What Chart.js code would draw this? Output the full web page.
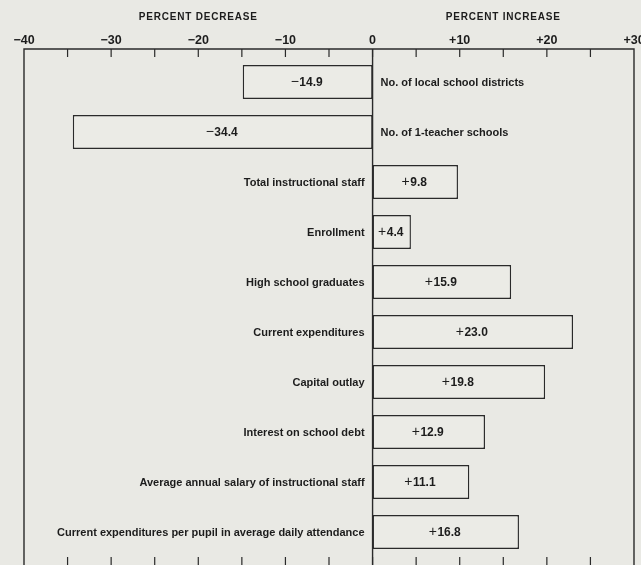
<!DOCTYPE html>
<html>
<head>
<meta charset="utf-8">
<script src="https://cdn.jsdelivr.net/npm/chart.js@4.4.1/dist/chart.umd.min.js"></script>
<style>
  html, body { margin: 0; padding: 0; background: #e9e9e4; }
  #wrap { width: 641px; height: 565px; position: relative; }
</style>
</head>
<body>
<div id="wrap"><canvas id="c"></canvas></div>
<script>
const categories = [
  "No. of local school districts",
  "No. of 1-teacher schools",
  "Total instructional staff",
  "Enrollment",
  "High school graduates",
  "Current expenditures",
  "Capital outlay",
  "Interest on school debt",
  "Average annual salary of instructional staff",
  "Current expenditures per pupil in average daily attendance"
];
const percentChange = [-14.9, -34.4, 9.8, 4.4, 15.9, 23.0, 19.8, 12.9, 11.1, 16.8];
const axisMin = -40;
const axisMax = 30;
const majorStep = 10;
const minorStep = 5;
const headerLeft = "PERCENT DECREASE";
const headerRight = "PERCENT INCREASE";

const FONT = "'Liberation Sans', Arial, sans-serif";
const INK = "#1c1c1c";
const LINE = "#2a2a2a";
const BG = "#e9e9e4";

function fmtSigned(v) {
  if (v > 0) return "+" + v;
  if (v < 0) return "\u2212" + Math.abs(v);
  return "0";
}

const decor = {
  id: "decor",
  beforeDraw(chart) {
    const ctx = chart.ctx;
    ctx.save();
    ctx.fillStyle = BG;
    ctx.fillRect(0, 0, chart.width, chart.height);
    ctx.restore();
  },
  afterDatasetsDraw(chart) {
    const ctx = chart.ctx;
    const xs = chart.scales.x;
    const area = chart.chartArea;
    const frameTop = area.top - 8;
    const frameBottom = chart.height;
    ctx.save();
    ctx.strokeStyle = LINE;
    ctx.lineWidth = 1.4;
    const xl = xs.getPixelForValue(axisMin);
    const xr = xs.getPixelForValue(axisMax);
    const x0 = xs.getPixelForValue(0);
    ctx.beginPath();
    ctx.moveTo(xl, frameBottom);
    ctx.lineTo(xl, frameTop);
    ctx.lineTo(xr, frameTop);
    ctx.lineTo(xr, frameBottom);
    ctx.moveTo(x0, frameTop);
    ctx.lineTo(x0, frameBottom);
    ctx.stroke();
    ctx.lineWidth = 1.2;
    ctx.beginPath();
    for (let v = axisMin + minorStep; v < axisMax; v += minorStep) {
      const px = xs.getPixelForValue(v);
      ctx.moveTo(px, frameTop);
      ctx.lineTo(px, area.top);
      ctx.moveTo(px, area.bottom);
      ctx.lineTo(px, frameBottom);
    }
    ctx.stroke();

    ctx.fillStyle = INK;
    ctx.font = "bold 10px " + FONT;
    ctx.textAlign = "center";
    ctx.textBaseline = "middle";
    if ('letterSpacing' in ctx) ctx.letterSpacing = "0.8px";
    ctx.fillText(headerLeft, (xl + x0) / 2, 17);
    ctx.fillText(headerRight, (x0 + xr) / 2, 17);
    if ('letterSpacing' in ctx) ctx.letterSpacing = "0px";

    const meta = chart.getDatasetMeta(0);
    meta.data.forEach((bar, i) => {
      const v = percentChange[i];
      const y = bar.y + 0.5;
      const sign = v > 0 ? "+" : "\u2212";
      const num = Math.abs(v).toFixed(1);
      const fSign = "14px " + FONT;
      const fNum = "bold 12px " + FONT;
      ctx.font = fSign;
      const ws = ctx.measureText(sign).width + 0.5;
      ctx.font = fNum;
      const wn = ctx.measureText(num).width;
      const cx = (bar.x + bar.base) / 2 - 1;
      const start = cx - (ws + wn) / 2;
      ctx.textAlign = "left";
      ctx.font = fSign;
      ctx.fillText(sign, start, y);
      ctx.font = fNum;
      ctx.fillText(num, start + ws, y);
      ctx.font = "bold 11px " + FONT;
      if (v >= 0) {
        ctx.textAlign = "right";
        ctx.fillText(categories[i], x0 - 8, y);
      } else {
        ctx.textAlign = "left";
        ctx.fillText(categories[i], x0 + 8, y);
      }
    });
    ctx.restore();
  }
};

new Chart(document.getElementById("c"), {
  type: "bar",
  data: {
    labels: categories,
    datasets: [{
      data: percentChange,
      backgroundColor: "#ebebe6",
      borderColor: LINE,
      borderWidth: 1.4,
      borderSkipped: false,
      barPercentage: 0.68,
      categoryPercentage: 1.0
    }]
  },
  options: {
    indexAxis: "y",
    responsive: true,
    maintainAspectRatio: false,
    animation: false,
    layout: { padding: { top: 32, bottom: 8, left: 24, right: 7 } },
    plugins: { legend: { display: false }, tooltip: { enabled: false } },
    scales: {
      x: {
        position: "top",
        min: axisMin,
        max: axisMax,
        grid: { display: false, drawTicks: false },
        border: { display: false },
        ticks: {
          stepSize: majorStep,
          autoSkip: false,
          maxRotation: 0,
          padding: 9,
          color: INK,
          font: { size: 12.5, weight: "bold", family: FONT },
          callback: (v) => fmtSigned(v)
        },
        afterFit(s) { s.height = 25; s.paddingLeft = 0; s.paddingRight = 0; }
      },
      y: {
        display: false,
        offset: true,
        grid: { display: false }
      }
    }
  },
  plugins: [decor]
});
</script>
</body>
</html>
